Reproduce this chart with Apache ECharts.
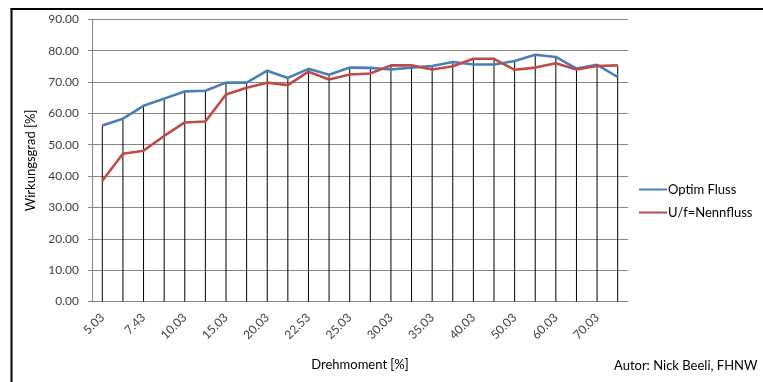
<!DOCTYPE html>
<html>
<head>
<meta charset="utf-8">
<script src="https://cdn.jsdelivr.net/npm/echarts@6/dist/echarts.min.js"></script>
<style>html,body{margin:0;padding:0;background:#fff;}#c{width:763px;height:382px;}</style>
</head>
<body>
<div id="c"></div>
<script>
var categories = ['5.03','6.23','7.43','8.63','10.03','12.53','15.03','17.53','20.03','21.28','22.53','23.78','25.03','27.53','30.03','32.53','35.03','37.53','40.03','45.03','50.03','55.03','60.03','65.03','70.03','75.03'];
var optimFluss = [56.1,58.3,62.4,64.7,67.0,67.2,69.8,69.8,73.6,71.3,74.2,72.3,74.6,74.5,74.0,74.6,75.1,76.4,75.6,75.6,76.7,78.7,78.0,74.3,75.5,71.6];
var nennfluss = [38.5,47.1,48.1,52.8,57.1,57.4,66.0,68.2,69.8,69.0,73.3,70.8,72.4,72.7,75.3,75.3,74.0,75.0,77.4,77.4,73.9,74.6,76.0,74.0,75.1,75.3];
var yTicks = [0,10,20,30,40,50,60,70,80,90];

var dropLines = optimFluss.map(function(v,i){ return Math.max(v, nennfluss[i]); });

var chart = echarts.init(document.getElementById('c'), null, {renderer:'canvas'});
var font = 'Lato, "Liberation Sans", sans-serif';
chart.setOption({
  animation:false,
  backgroundColor:'#fff',
  textStyle:{fontFamily:font},
  grid:{left:92,right:135,top:19.3,bottom:80.5,containLabel:false},
  legend:{
    data:['Optim Fluss','U/f=Nennfluss'],
    orient:'vertical',left:634,top:178,itemGap:10,itemWidth:28,itemHeight:14,
    icon:'path://M0,6 L28,6 L28,8 L0,8 Z',
    textStyle:{fontFamily:font,fontSize:13,color:'#000',padding:[0,0,0,-4]}
  },
  xAxis:{
    type:'category',data:categories,boundaryGap:true,
    name:'Drehmoment [%]',nameLocation:'middle',nameGap:57,
    nameTextStyle:{fontFamily:font,fontSize:13,color:'#000'},
    axisLine:{lineStyle:{color:'#868686',width:1}},
    axisTick:{show:false},
    axisLabel:{interval:1,rotate:45,margin:14,fontSize:12,color:'#404040',fontFamily:font},
    splitLine:{show:false}
  },
  yAxis:{
    type:'value',min:0,max:90,interval:10,
    name:'Wirkungsgrad [%]',nameLocation:'middle',nameGap:55,
    nameTextStyle:{fontFamily:font,fontSize:13,color:'#000'},
    axisLine:{show:true,lineStyle:{color:'#868686',width:1}},
    axisTick:{show:true,length:4,lineStyle:{color:'#868686'}},
    axisLabel:{margin:13,fontSize:12,color:'#404040',fontFamily:font,
      formatter:function(v){return yTicks.indexOf(v)>=0 ? v.toFixed(2) : '';}},
    splitLine:{show:true,lineStyle:{color:'#868686',width:1}}
  },
  series:[
    {name:'drop',type:'bar',data:dropLines,barWidth:1,itemStyle:{color:'#000'},silent:true,z:1},
    {name:'Optim Fluss',type:'line',data:optimFluss,showSymbol:false,symbol:'none',
      lineStyle:{color:'#4a7ebb',width:2.6},itemStyle:{color:'#4a7ebb'},z:3},
    {name:'U/f=Nennfluss',type:'line',data:nennfluss,showSymbol:false,symbol:'none',
      lineStyle:{color:'#be4b48',width:2.6},itemStyle:{color:'#be4b48'},z:3}
  ],
  graphic:[
    {type:'line',shape:{x1:11.5,y1:8,x2:11.5,y2:382},style:{stroke:'#000',lineWidth:2}},
    {type:'line',shape:{x1:10.5,y1:9,x2:763,y2:9},style:{stroke:'#000',lineWidth:2}},
    {type:'text',left:614,top:359,style:{text:'Autor: Nick Beeli, FHNW',font:'13px '+font,fill:'#000'}}
  ]
});
</script>
</body>
</html>
